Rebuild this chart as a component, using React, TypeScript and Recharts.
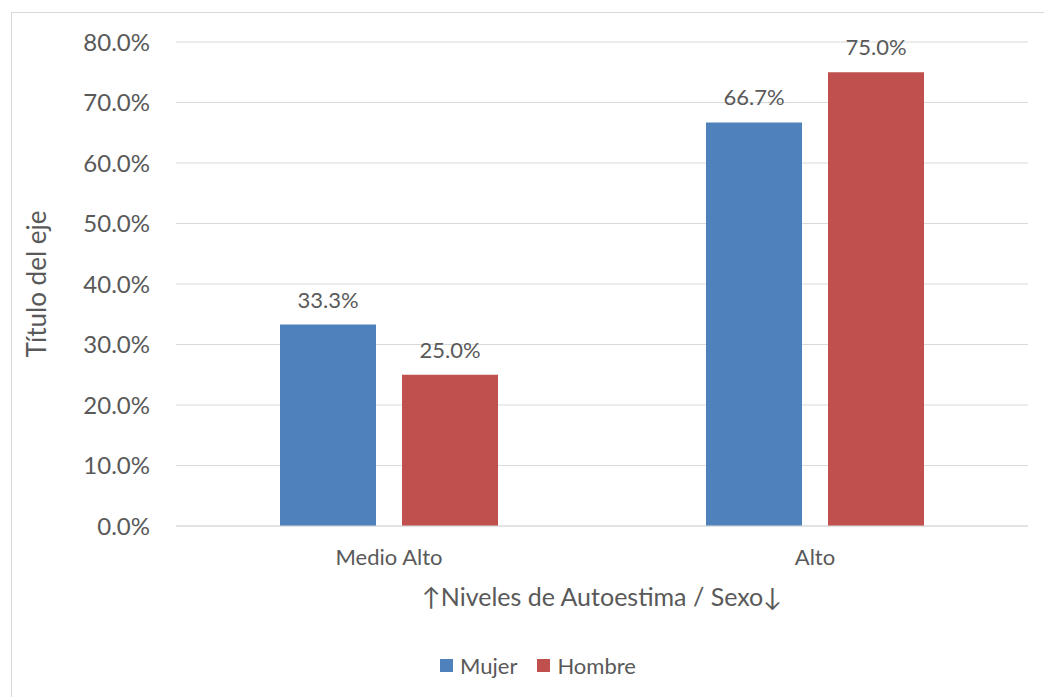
import React from "react";
import { BarChart, Bar, XAxis, YAxis, CartesianGrid, Legend, LabelList } from "recharts";

// 자료: 자존감 수준별 성별 비율 (%)
const categories = ["Medio Alto", "Alto"];
const seriesNames = ["Mujer", "Hombre"];
const mujer = [33.3, 66.7];
const hombre = [25.0, 75.0];
const yTicks = [0, 10, 20, 30, 40, 50, 60, 70, 80];

const data = categories.map((name, i) => ({ name, Mujer: mujer[i], Hombre: hombre[i] }));

const FONT = "Lato, sans-serif";
const GRAY = "#595959";
const fmt = (v: number) => `${v.toFixed(1)}%`;

// 범례: 계열 순서대로 (Mujer, Hombre)
const LegendBox = (props: any) => {
  const items = [...(props.payload || [])].sort(
    (a: any, b: any) => seriesNames.indexOf(a.value) - seriesNames.indexOf(b.value)
  );
  return (
    <div style={{ display: "flex", alignItems: "center", fontFamily: FONT, fontSize: 22, color: GRAY }}>
      {items.map((it: any) => (
        <div key={it.value} style={{ display: "flex", alignItems: "center", marginRight: 20 }}>
          <span style={{ width: 13, height: 13, background: it.color, display: "inline-block", marginRight: 7 }} />
          <span>{it.value}</span>
        </div>
      ))}
    </div>
  );
};

export default function App() {
  return (
    <div style={{ position: "absolute", left: 0, top: 0, width: 1044, height: 697, background: "#fff", overflow: "hidden" }}>
      <div style={{ position: "absolute", left: 11, top: 12, width: 1060, height: 720, border: "1px solid #D9D9D9" }} />
      <BarChart
        width={1044}
        height={697}
        data={data}
        margin={{ top: 42, right: 16, left: 26, bottom: 141 }}
        barCategoryGap={104}
        barGap={26}
      >
        <CartesianGrid horizontal vertical={false} stroke="#D9D9D9" strokeWidth={1} />
        <XAxis
          dataKey="name"
          axisLine={{ stroke: "#D9D9D9" }}
          tickLine={false}
          tickSize={0}
          tickMargin={23}
          height={30}
          tick={{ fill: GRAY, fontSize: 22, fontFamily: FONT }}
          label={{ value: "↑Niveles de Autoestima / Sexo↓", position: "bottom", offset: 32, fill: GRAY, fontSize: 25, fontFamily: FONT }}
        />
        <YAxis
          width={150}
          domain={[0, 80]}
          ticks={yTicks}
          tickFormatter={fmt}
          axisLine={false}
          tickLine={false}
          tickSize={0}
          tickMargin={26}
          tick={{ fill: GRAY, fontSize: 24, fontFamily: FONT }}
          label={{ value: "Título del eje", angle: -90, position: "insideLeft", offset: 11, fill: GRAY, fontSize: 26, fontFamily: FONT, style: { textAnchor: "middle" } }}
        />
        <Legend
          layout="horizontal"
          verticalAlign="middle"
          align="center"
          content={<LegendBox />}
          wrapperStyle={{ top: 652, left: 440, width: "auto" }}
        />
        <Bar dataKey="Mujer" fill="#4F81BD" isAnimationActive={false}>
          <LabelList dataKey="Mujer" position="top" offset={17} formatter={(v: any) => fmt(Number(v))} fill={GRAY} fontSize={22} fontFamily={FONT} />
        </Bar>
        <Bar dataKey="Hombre" fill="#C0504D" isAnimationActive={false}>
          <LabelList dataKey="Hombre" position="top" offset={17} formatter={(v: any) => fmt(Number(v))} fill={GRAY} fontSize={22} fontFamily={FONT} />
        </Bar>
      </BarChart>
    </div>
  );
}
